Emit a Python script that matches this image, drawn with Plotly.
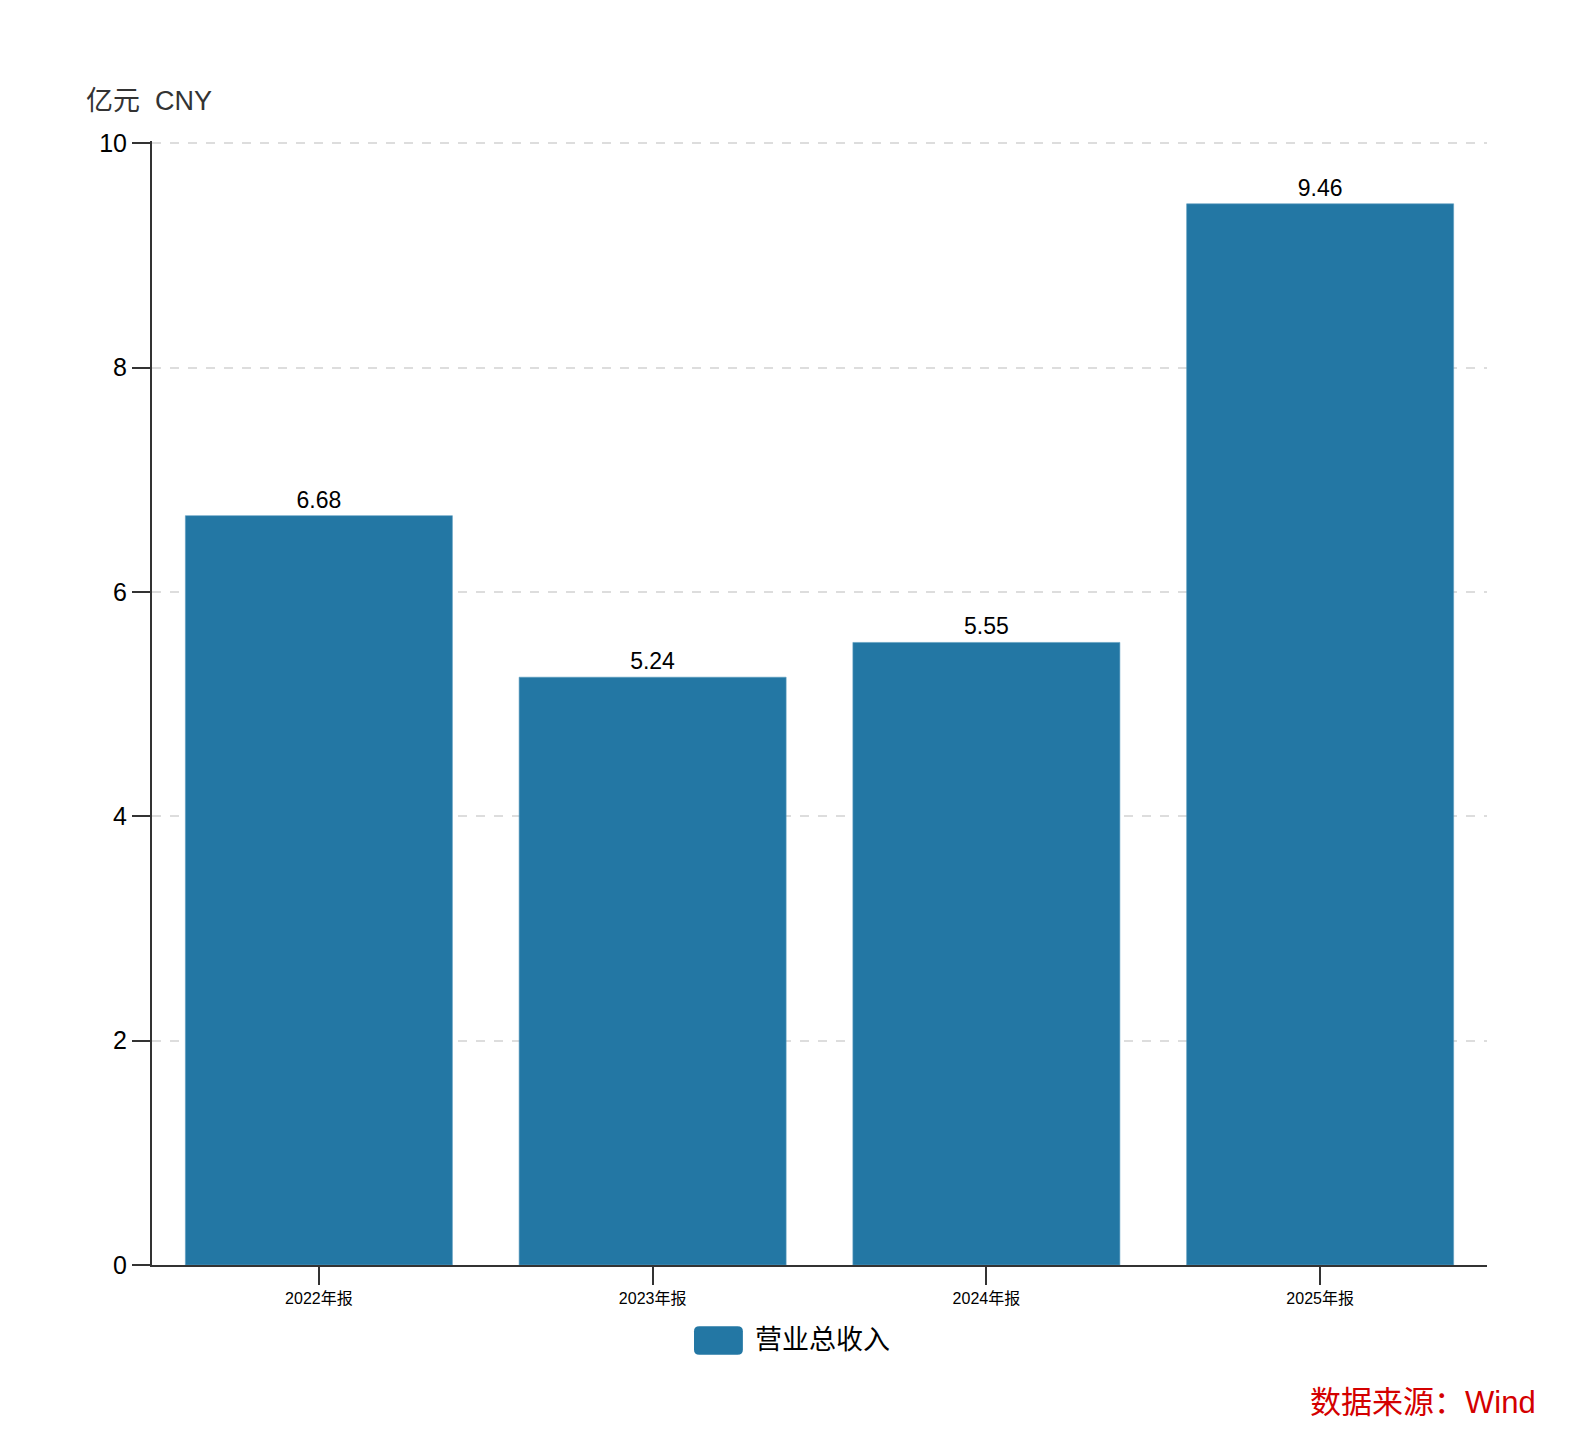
import plotly.graph_objects as go

# data
categories = ["2022年报", "2023年报", "2024年报", "2025年报"]
revenue = [6.68, 5.24, 5.55, 9.46]
series_name = "营业总收入"
y_ticks = [0, 2, 4, 6, 8, 10]

FONT = "Liberation Sans, Noto Sans CJK SC, sans-serif"
BAR = "#2377a4"

fig = go.Figure()
fig.add_trace(go.Bar(
    x=categories, y=revenue, name=series_name,
    marker=dict(color=BAR, line=dict(color="#5a9cc0", width=0.6)),
    width=0.8,
    text=[f"{v:.2f}" for v in revenue],
    textposition="outside",
    textfont=dict(size=23, color="#000", family=FONT),
    cliponaxis=False,
    showlegend=False,
))

fig.update_layout(
    width=1596, height=1450,
    margin=dict(l=144, r=117, t=133, b=193),
    plot_bgcolor="white", paper_bgcolor="white",
    font=dict(family=FONT, color="#000"),
    showlegend=False,
    bargap=0.2,
)

fig.update_xaxes(
    showline=True, linecolor="#333", linewidth=2,
    ticks="outside", ticklen=18, tickwidth=2, tickcolor="#333",
    tickfont=dict(size=16, color="#000"),
    showgrid=False, range=[-0.5, 3.5],
)
fig.update_yaxes(
    range=[0, 10.02], tickvals=y_ticks,
    showline=True, linecolor="#333", linewidth=2,
    ticks="outside", ticklen=18, tickwidth=2, tickcolor="#333",
    tickfont=dict(size=25, color="#000"),
    showgrid=True, gridcolor="#dddddd", griddash="dash", gridwidth=1.5,
    zeroline=False,
)

# legend drawn as a rounded swatch plus label, centred under the plot
sx0, sx1, sy0, sy1, rx, ry = 0.406, 0.4426, -0.0798, -0.0544, 0.004, 0.0045
fig.add_shape(
    type="path", xref="paper", yref="paper",
    path=(f"M {sx0+rx},{sy0} L {sx1-rx},{sy0} Q {sx1},{sy0} {sx1},{sy0+ry} "
          f"L {sx1},{sy1-ry} Q {sx1},{sy1} {sx1-rx},{sy1} "
          f"L {sx0+rx},{sy1} Q {sx0},{sy1} {sx0},{sy1-ry} "
          f"L {sx0},{sy0+ry} Q {sx0},{sy0} {sx0+rx},{sy0} Z"),
    fillcolor=BAR, line=dict(width=0),
)
fig.add_annotation(text=series_name, xref="paper", yref="paper",
                   x=0.4505, y=-0.0671, xanchor="left", yanchor="middle",
                   showarrow=False, font=dict(size=27, color="#000", family=FONT))

fig.add_annotation(text="亿元  CNY", xref="paper", yref="paper",
                   x=-0.051, y=1.036, xanchor="left", yanchor="middle",
                   showarrow=False, font=dict(size=27, color="#333", family=FONT))
fig.add_annotation(text="数据来源：Wind", xref="paper", yref="paper",
                   x=1.038, y=-0.1224, xanchor="right", yanchor="middle",
                   showarrow=False, font=dict(size=31, color="#d40000", family=FONT))

fig.write_html("out.html")
